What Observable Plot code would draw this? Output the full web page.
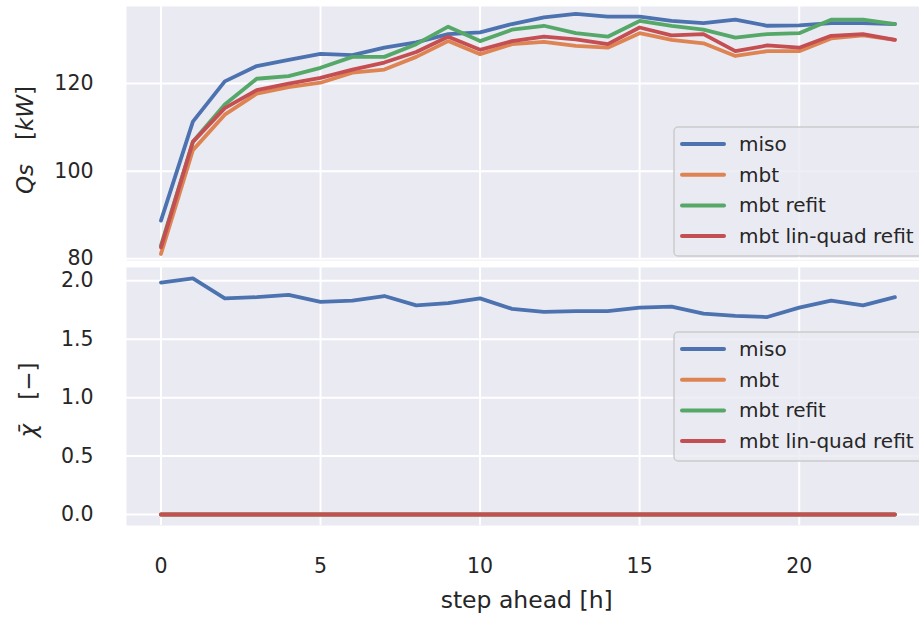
<!DOCTYPE html>
<html>
<head>
<meta charset="utf-8">
<script src="https://cdn.jsdelivr.net/npm/d3@7"></script>
<script src="https://cdn.jsdelivr.net/npm/@observablehq/plot@0.6"></script>
<style>
  html, body { margin: 0; padding: 0; background: white; }
  #chart { position: relative; width: 919px; height: 620px; overflow: hidden; font-family: "DejaVu Sans", sans-serif; }
  #chart svg { position: absolute; left: 0; }
</style>
</head>
<body>
<div id="chart"></div>
<script>
// ---- data ----
const steps = [0,1,2,3,4,5,6,7,8,9,10,11,12,13,14,15,16,17,18,19,20,21,22,23];
const seriesNames = ["miso", "mbt", "mbt refit", "mbt lin-quad refit"];
const seriesColors = ["#4c72b0", "#dd8452", "#55a868", "#c44e52"];

// Qs [kW]
const qsMiso      = [88.7,111.3,120.5,124.0,125.4,126.8,126.5,128.2,129.4,131.3,131.7,133.6,135.1,135.9,135.3,135.3,134.3,133.8,134.6,133.2,133.3,133.8,133.8,133.6];
const qsMbt       = [81.1,104.8,112.9,117.7,119.2,120.2,122.5,123.2,126.1,129.7,126.7,129.0,129.5,128.6,128.2,131.5,130.0,129.2,126.3,127.4,127.4,130.3,131.0,130.0];
const qsMbtRefit  = [83.0,106.7,115.2,121.1,121.7,123.6,126.1,126.1,129.0,133.0,129.7,132.3,133.2,131.5,130.7,134.3,133.2,132.3,130.5,131.3,131.5,134.6,134.6,133.6];
const qsMbtLinQuad= [82.6,106.7,114.4,118.5,120.0,121.3,123.2,124.8,127.2,130.7,127.7,129.7,130.7,130.1,129.0,132.8,131.0,131.3,127.4,128.7,128.2,130.9,131.3,130.0];

// chi bar [-]
const chiMiso      = [1.985,2.02,1.85,1.86,1.88,1.82,1.83,1.87,1.79,1.81,1.85,1.76,1.735,1.74,1.74,1.77,1.78,1.72,1.70,1.69,1.77,1.83,1.79,1.86];
const chiMbt       = [0,0,0,0,0,0,0,0,0,0,0,0,0,0,0,0,0,0,0,0,0,0,0,0];
const chiMbtRefit  = [0,0,0,0,0,0,0,0,0,0,0,0,0,0,0,0,0,0,0,0,0,0,0,0];
const chiMbtLinQuad= [0,0,0,0,0,0,0,0,0,0,0,0,0,0,0,0,0,0,0,0,0,0,0,0];

const xTicks = [0, 5, 10, 15, 20];
const qsTicks = [80, 100, 120];
const chiTicks = [0, 0.5, 1.0, 1.5, 2.0];

// ---- build tidy tables ----
function tidy(arrays) {
  const rows = [];
  arrays.forEach((arr, i) => arr.forEach((v, j) => rows.push({step: steps[j], value: v, series: seriesNames[i]})));
  return rows;
}
const qsData = tidy([qsMiso, qsMbt, qsMbtRefit, qsMbtLinQuad]);
const chiData = tidy([chiMiso, chiMbt, chiMbtRefit, chiMbtLinQuad]);

const xDomain = [-1.08, 23.77];
const chart = document.getElementById("chart");

function panel({data, yDomain, yTicks, yFormat, height, marginTop, marginBottom, showX, top}) {
  const svg = Plot.plot({
    width: 919, height,
    marginLeft: 126, marginRight: 0, marginTop, marginBottom,
    style: {fontFamily: "DejaVu Sans", fontSize: "20.5px", color: "#262626", background: "transparent", overflow: "visible"},
    x: {domain: xDomain, ticks: xTicks, tickSize: 0, tickPadding: 33, label: null, axis: showX ? "bottom" : null},
    y: {domain: yDomain, ticks: yTicks, tickSize: 0, tickPadding: 33, label: null, tickFormat: yFormat},
    color: {domain: seriesNames, range: seriesColors},
    marks: [
      Plot.frame({fill: "#eaeaf2", stroke: "none"}),
      Plot.ruleX(xTicks, {stroke: "white", strokeWidth: 2}),
      Plot.ruleY(yTicks, {stroke: "white", strokeWidth: 2}),
      Plot.line(data, {x: "step", y: "value", z: "series", stroke: "series", strokeWidth: 3.8, strokeLinecap: "round", strokeLinejoin: "round"})
    ]
  });
  svg.style.top = top + "px";
  chart.appendChild(svg);
}

panel({data: qsData, yDomain: [79.6, 137.6], yTicks: qsTicks, yFormat: d => d3.format("d")(d),
       height: 262, marginTop: 6, marginBottom: 2, showX: false, top: 0});
panel({data: chiData, yDomain: [-0.094, 2.114], yTicks: chiTicks, yFormat: d3.format(".1f"),
       height: 358, marginTop: 5, marginBottom: 95, showX: true, top: 262});

// ---- overlay: axis labels and legends ----
const ov = d3.select(chart).append("svg")
  .attr("width", 919).attr("height", 620)
  .style("top", "0px")
  .style("font-family", "DejaVu Sans")
  .attr("fill", "#262626");

ov.append("text").attr("x", 526.7).attr("y", 608).attr("text-anchor", "middle")
  .attr("font-size", 23.5).text("step ahead [h]");

const yl1 = ov.append("text").attr("transform", "translate(33,140) rotate(-90)")
  .attr("text-anchor", "middle").attr("font-size", 23);
yl1.append("tspan").attr("font-style", "italic").text("Qs");
yl1.append("tspan").attr("dx", 24).text("[");
yl1.append("tspan").attr("font-style", "italic").text("kW");
yl1.append("tspan").text("]");

const yl2 = ov.append("text").attr("transform", "translate(36,400) rotate(-90)")
  .attr("text-anchor", "middle").attr("font-size", 23);
yl2.append("tspan").attr("font-style", "italic").text("\u03C7\u0304");
yl2.append("tspan").attr("dx", 24).text("[\u2212]");

function legend(y0) {
  const g = ov.append("g").attr("transform", `translate(674,${y0})`);
  g.append("rect").attr("x", 0).attr("y", 0).attr("width", 270).attr("height", 129)
    .attr("rx", 4).attr("fill", "#eaeaf2").attr("fill-opacity", 0.8)
    .attr("stroke", "#cccccc").attr("stroke-width", 1.5);
  seriesNames.forEach((name, i) => {
    const cy = 17 + i * 30.7;
    g.append("line").attr("x1", 8).attr("x2", 50).attr("y1", cy).attr("y2", cy)
      .attr("stroke", seriesColors[i]).attr("stroke-width", 4).attr("stroke-linecap", "round");
    g.append("text").attr("x", 65).attr("y", cy).attr("dy", "0.35em")
      .attr("font-size", 20).text(name);
  });
}
legend(127);
legend(332);
</script>
</body>
</html>
